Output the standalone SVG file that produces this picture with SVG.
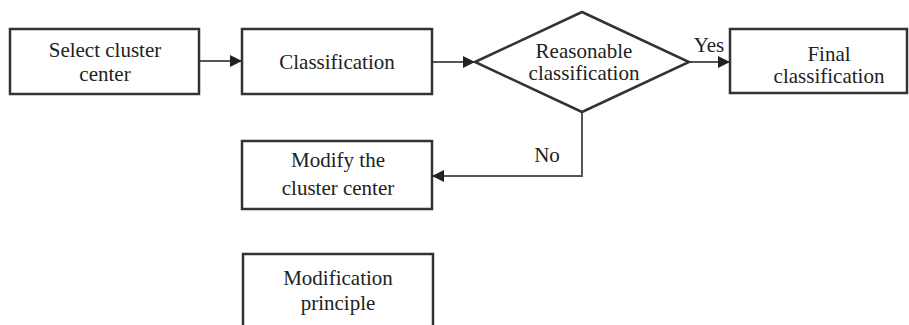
<svg xmlns="http://www.w3.org/2000/svg" width="909" height="325" viewBox="0 0 909 325">
<style>
.box{fill:#fff;stroke:#333;stroke-width:2.5}
.ln{fill:none;stroke:#555;stroke-width:2}
.t{font-size:21px;fill:#222;text-anchor:middle}
</style>
<defs>
<marker id="ah" markerWidth="12" markerHeight="12" refX="12" refY="6" orient="auto" markerUnits="userSpaceOnUse">
<path d="M0,0 L12,6 L0,12 Z" fill="#222"/>
</marker>
</defs>
<rect width="909" height="325" fill="#fff"/>
<g font-family="Liberation Serif, DejaVu Serif, serif">
<g id="connectors">
<line class="ln" x1="199" y1="61" x2="242" y2="61" marker-end="url(#ah)"/>
<line class="ln" x1="432" y1="62" x2="475" y2="62" marker-end="url(#ah)"/>
<line class="ln" x1="689" y1="62" x2="730" y2="62" marker-end="url(#ah)"/>
<polyline class="ln" points="582,112 582,176 432,176" marker-end="url(#ah)"/>
<text class="t" x="709" y="52">Yes</text>
<text class="t" x="547" y="162">No</text>
</g>
<g id="select">
<rect class="box" x="10" y="29" width="189" height="65"/>
<text class="t" x="105" y="57">Select cluster</text>
<text class="t" x="105" y="81">center</text>
</g>
<g id="classification">
<rect class="box" x="242" y="29" width="190" height="65"/>
<text class="t" x="337" y="69">Classification</text>
</g>
<g id="reasonable">
<polygon class="box" points="475,62 582,12 689,62 582,112"/>
<text class="t" x="584" y="58">Reasonable</text>
<text class="t" x="584" y="80">classification</text>
</g>
<g id="final">
<rect class="box" x="730" y="29" width="177" height="64"/>
<text class="t" x="829" y="61">Final</text>
<text class="t" x="829" y="83">classification</text>
</g>
<g id="modify">
<rect class="box" x="242" y="141" width="190" height="68"/>
<text class="t" x="338" y="167">Modify the</text>
<text class="t" x="338" y="195">cluster center</text>
</g>
<g id="principle">
<rect class="box" x="243" y="254" width="190" height="90"/>
<text class="t" x="338" y="285">Modification</text>
<text class="t" x="338" y="310">principle</text>
</g>
</g>
</svg>
